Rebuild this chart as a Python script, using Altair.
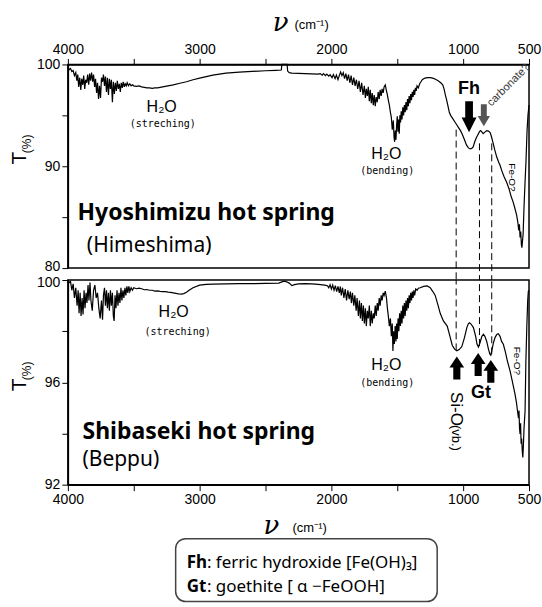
import altair as alt
import pandas as pd

# ---------------- spectra: (wavenumber cm-1, transmittance %) ----------------
top_stretching = [
    (4000, 99.7), (3990, 99.5), (3980, 99.6), (3970, 99.3), (3960, 99.4), (3950, 98.9),
    (3940, 99.2), (3932, 98.4), (3925, 99.0), (3918, 97.8), (3910, 98.7), (3902, 97.5),
    (3895, 98.6), (3887, 98.0), (3880, 98.9), (3872, 97.6), (3865, 98.5), (3857, 98.2),
    (3850, 99.0), (3842, 98.0), (3835, 99.1), (3828, 98.4), (3820, 99.2), (3812, 98.3),
    (3805, 99.0), (3797, 97.8), (3790, 98.6), (3782, 97.2), (3775, 98.2), (3767, 96.6),
    (3760, 97.9), (3752, 96.7), (3745, 98.7), (3737, 98.3), (3730, 99.0), (3722, 97.9),
    (3715, 98.8), (3707, 97.3), (3700, 98.7), (3692, 97.0), (3685, 98.6), (3677, 97.6),
    (3670, 98.5), (3662, 96.3), (3655, 98.3), (3647, 97.1), (3640, 98.2), (3632, 97.4),
    (3625, 98.4), (3617, 97.6), (3610, 98.1), (3602, 97.3), (3595, 98.2), (3587, 97.7),
    (3580, 98.3), (3572, 97.8), (3565, 98.1), (3557, 97.9), (3550, 98.2), (3540, 97.9),
    (3530, 98.1), (3520, 97.9), (3510, 98.0), (3500, 97.9), (3480, 97.85), (3460, 97.9),
    (3440, 97.8), (3420, 97.75), (3400, 97.7), (3380, 97.7), (3360, 97.65), (3340, 97.7),
    (3320, 97.7), (3300, 97.75), (3280, 97.8), (3260, 97.85), (3240, 97.9), (3220, 97.95),
]
top_plateau = [
    (3200, 98.0), (3150, 98.15), (3100, 98.3), (3050, 98.5), (3000, 98.65), (2950, 98.8),
    (2900, 98.95), (2850, 99.05), (2800, 99.15), (2700, 99.25), (2600, 99.32), (2500, 99.38),
    (2420, 99.42), (2380, 99.45), (2376, 100.0), (2336, 100.0), (2332, 99.35), (2320, 99.2),
    (2300, 99.15), (2250, 99.12), (2200, 99.1), (2150, 99.08), (2100, 99.05),
]
top_bending = [
    (2085, 99.1), (2070, 98.95), (2060, 99.1), (2045, 98.9), (2035, 99.05), (2020, 98.85),
    (2010, 99.0), (1995, 98.7), (1985, 99.0), (1972, 98.6), (1962, 98.95), (1950, 98.5),
    (1940, 98.9), (1930, 99.25), (1920, 98.9), (1910, 99.2), (1900, 98.6), (1890, 99.1),
    (1880, 98.4), (1870, 99.0), (1860, 98.2), (1850, 98.9), (1840, 98.0), (1830, 98.7),
    (1820, 97.9), (1810, 98.5), (1800, 97.6), (1790, 98.4), (1780, 97.3), (1770, 98.2),
    (1760, 97.0), (1750, 97.9), (1742, 96.7), (1735, 97.6), (1727, 96.9), (1720, 97.8),
    (1712, 96.4), (1705, 97.5), (1697, 96.2), (1690, 97.2), (1682, 96.0), (1675, 97.0),
    (1667, 95.9), (1660, 96.8), (1652, 96.3), (1645, 97.3), (1637, 96.6), (1630, 97.5),
    (1622, 96.9), (1615, 97.6), (1607, 97.2), (1600, 97.8), (1591, 98.0), (1582, 97.4),
    (1575, 97.0), (1568, 96.5), (1560, 96.0), (1552, 95.3), (1545, 94.8), (1538, 93.6),
    (1530, 94.5), (1524, 92.8), (1520, 92.4), (1515, 93.5), (1510, 92.6), (1505, 94.0),
    (1500, 94.9), (1495, 93.4), (1490, 94.6), (1485, 93.2), (1480, 95.0), (1475, 94.3),
    (1470, 95.4), (1464, 94.6), (1458, 95.8), (1452, 95.0), (1446, 96.0), (1440, 95.3),
    (1434, 96.3), (1428, 95.5), (1422, 96.6), (1416, 95.9), (1410, 96.9), (1404, 96.2),
    (1398, 97.1), (1392, 96.5), (1386, 97.3), (1380, 96.8), (1374, 97.5), (1368, 97.0),
    (1362, 97.7), (1356, 97.4), (1350, 97.9), (1340, 97.7), (1330, 98.1), (1320, 98.3),
    (1310, 98.5), (1300, 98.6),
]
top_fingerprint = [
    (1290, 98.65), (1270, 98.7), (1250, 98.7), (1230, 98.65), (1210, 98.55), (1190, 98.4),
    (1170, 98.2), (1155, 98.0), (1145, 97.6), (1135, 97.0), (1125, 96.5), (1115, 95.9),
    (1105, 95.3), (1095, 95.0), (1080, 94.7), (1065, 94.4), (1050, 94.1), (1035, 93.8),
    (1020, 93.5), (1005, 93.1), (990, 92.6), (975, 92.1), (960, 91.8), (947, 91.7),
    (935, 91.75), (924, 91.9), (912, 92.4), (900, 92.8), (888, 93.1), (876, 93.4),
    (867, 93.5), (857, 93.35), (848, 93.2), (835, 93.35), (821, 93.5), (808, 93.45),
    (795, 93.3), (785, 92.9), (773, 92.3), (760, 91.6), (745, 90.9), (730, 90.4),
    (720, 90.1), (705, 89.5), (690, 89.0), (669, 88.4), (650, 87.7), (635, 87.0),
    (621, 86.5), (608, 85.9), (594, 85.2), (585, 84.5), (578, 83.7), (573, 84.3),
    (568, 83.0), (563, 83.6), (558, 82.3), (554, 82.0), (550, 82.6), (545, 83.3),
    (538, 86.0), (530, 88.5), (523, 90.5), (515, 93.5), (508, 95.0), (500, 96.0),
]

bot_stretching = [
    (4000, 100.0), (3990, 99.9), (3980, 99.95), (3970, 99.6), (3960, 99.85), (3950, 99.3),
    (3940, 99.7), (3930, 99.0), (3922, 99.6), (3915, 98.7), (3907, 99.5), (3900, 98.6),
    (3892, 99.3), (3885, 98.65), (3877, 99.6), (3870, 98.9), (3862, 99.5), (3855, 99.1),
    (3847, 99.8), (3840, 99.2), (3832, 99.9), (3825, 99.2), (3815, 98.8), (3805, 99.6),
    (3795, 99.8), (3785, 99.3), (3775, 99.5), (3765, 98.9), (3755, 98.5), (3745, 99.2),
    (3737, 98.45), (3730, 99.4), (3722, 99.7), (3715, 99.0), (3707, 99.6), (3700, 98.9),
    (3692, 99.5), (3685, 98.8), (3677, 99.6), (3670, 99.0), (3662, 99.5), (3655, 98.6),
    (3649, 98.4), (3642, 99.4), (3635, 98.9), (3627, 99.6), (3620, 99.0), (3612, 99.5),
    (3605, 99.1), (3597, 99.7), (3590, 99.2), (3582, 99.6), (3575, 99.3), (3567, 99.7),
    (3560, 99.4), (3552, 99.75), (3545, 99.5), (3537, 99.75), (3530, 99.55), (3520, 99.7),
    (3510, 99.6), (3500, 99.7), (3480, 99.66), (3460, 99.68), (3440, 99.66), (3420, 99.62),
    (3400, 99.63), (3380, 99.6), (3360, 99.6), (3340, 99.57), (3320, 99.58), (3300, 99.56),
    (3280, 99.55), (3260, 99.55), (3240, 99.53), (3220, 99.52), (3200, 99.5),
]
bot_plateau = [
    (3180, 99.48), (3160, 99.46), (3140, 99.45), (3120, 99.47), (3100, 99.52), (3080, 99.6),
    (3050, 99.7), (3000, 99.8), (2950, 99.83), (2900, 99.84), (2800, 99.85), (2700, 99.86),
    (2600, 99.86), (2500, 99.87), (2400, 99.88), (2380, 99.92), (2360, 99.96), (2340, 99.93),
    (2320, 99.88), (2300, 99.78), (2280, 99.82), (2250, 99.85), (2200, 99.86), (2150, 99.85),
    (2100, 99.83), (2050, 99.8), (2030, 99.78),
]
bot_bending = [
    (2020, 99.7), (2010, 99.82), (2000, 99.65), (1990, 99.8), (1980, 99.6), (1970, 99.78),
    (1960, 99.55), (1950, 99.75), (1940, 99.5), (1932, 99.75), (1925, 99.4), (1915, 99.7),
    (1905, 99.3), (1895, 99.65), (1885, 99.2), (1875, 99.6), (1865, 99.25), (1856, 99.55),
    (1848, 99.1), (1840, 99.5), (1830, 99.0), (1822, 99.4), (1812, 98.8), (1805, 99.3),
    (1795, 98.6), (1787, 99.2), (1780, 98.5), (1772, 99.1), (1765, 98.4), (1757, 99.0),
    (1750, 98.3), (1742, 98.9), (1735, 98.2), (1727, 98.8), (1720, 98.5), (1712, 99.0),
    (1705, 98.2), (1697, 98.8), (1690, 98.3), (1682, 98.7), (1675, 98.5), (1667, 99.0),
    (1660, 98.6), (1652, 99.1), (1645, 98.8), (1637, 99.3), (1630, 99.0), (1622, 99.4),
    (1615, 99.2), (1607, 99.5), (1600, 99.4), (1591, 99.57), (1582, 99.3), (1575, 98.9),
    (1568, 98.6), (1560, 98.2), (1552, 98.5), (1545, 97.8), (1538, 98.3), (1533, 97.23),
    (1528, 98.0), (1522, 97.5), (1516, 98.2), (1510, 97.6), (1505, 98.3), (1500, 97.7),
    (1494, 98.5), (1488, 98.0), (1482, 98.7), (1476, 98.2), (1470, 98.8), (1464, 98.3),
    (1458, 99.0), (1452, 98.5), (1446, 99.1), (1440, 98.6), (1434, 99.2), (1428, 98.8),
    (1422, 99.3), (1416, 98.9), (1410, 99.4), (1404, 99.1), (1398, 99.5), (1392, 99.2),
    (1386, 99.55), (1380, 99.3), (1374, 99.6), (1368, 99.4), (1360, 99.65), (1350, 99.6),
    (1340, 99.68), (1326, 99.7), (1300, 99.75),
]
bot_fingerprint = [
    (1273, 99.77), (1250, 99.7), (1230, 99.55), (1212, 99.4), (1190, 99.0), (1174, 98.7),
    (1150, 98.4), (1121, 98.2), (1100, 97.8), (1083, 97.45), (1065, 97.3), (1048, 97.23),
    (1030, 97.28), (1010, 97.4), (990, 97.75), (972, 98.14), (960, 98.3), (952, 98.33),
    (940, 98.28), (922, 98.14), (905, 97.8), (895, 97.5), (884, 97.38), (872, 97.55),
    (858, 97.8), (846, 97.88), (835, 97.8), (821, 97.6), (808, 97.3), (797, 97.1),
    (790, 97.06), (780, 97.3), (770, 97.55), (758, 97.75), (745, 97.87), (733, 97.9),
    (720, 97.8), (708, 97.6), (695, 97.49), (680, 97.2), (665, 96.85), (644, 96.45),
    (625, 96.0), (606, 95.53), (595, 95.2), (588, 94.9), (580, 94.6), (576, 94.9),
    (572, 94.2), (568, 93.98), (564, 94.4), (560, 93.6), (556, 93.8), (551, 93.3),
    (547, 93.06), (543, 93.5), (538, 94.2), (530, 94.88), (524, 96.8), (517, 98.14),
    (510, 99.2), (505, 99.57), (500, 99.6),
]

x_ticks = [4000, 3500, 3000, 2500, 2000, 1500, 1000, 500]
top_y_ticks = [80, 85, 90, 95, 100]
bot_y_ticks = [92, 94, 96, 98, 100]

# dashed guide lines (wavenumber, start T in upper panel, end T in lower panel)
guide_nu = [1053, 876, 783]
guide_top_T = [93.6, 92.25, 92.25]
guide_bot_T = [97.25, 97.42, 97.1]

# arrows (wavenumber, T)
fh_arrow = [(955, 94.87)]
carbonate_arrow = [(843, 95.0)]
up_arrows = [(1048, 96.56), (886, 96.70), (790, 96.43)]

# annotations (text, wavenumber, T)
top_name = [("Hyoshimizu hot spring", 3927, 85.36)]
top_place = [("(Himeshima)", 3856, 82.13)]
top_h2o = [("H\u2082O", 3288, 95.85), ("H\u2082O", 1583, 91.25)]
top_modes = [("(streching)", 3280, 94.19), ("(bending)", 1576, 89.58)]
top_fh = [("Fh", 955, 97.57)]
top_carb = [("carbonate?", 655, 97.95)]
top_feo = [("Fe-O?", 629, 88.9)]
top_nu_sym = [("\u03bd", 2386, 104.1)]
top_nu_unit = [("(cm\u207b\u00b9)", 2280, 103.9)]
top_T_sym = [("T", 4364, 90.8)]
top_T_unit = [("(%)", 4311, 92.2)]

bot_name = [("Shibaseki hot spring", 3889, 94.04)]
bot_place = [("(Beppu)", 3889, 92.97)]
bot_h2o = [("H\u2082O", 3197, 98.75), ("H\u2082O", 1583, 96.66)]
bot_modes = [("(streching)", 3167, 97.97), ("(bending)", 1576, 95.98)]
bot_gt = [("Gt", 864, 95.59)]
bot_sio = [("Si-O", 1053, 94.96)]
bot_vb = [("(vb.)", 1053, 93.83)]
bot_feo = [("Fe-O?", 591, 96.84)]
bot_nu_sym = [("\u03bd", 2455, 90.4)]
bot_nu_unit = [("(cm\u207b\u00b9)", 2295, 90.32)]
bot_T_sym = [("T", 4364, 95.9)]
bot_T_unit = [("(%)", 4311, 96.45)]

legend_box = [(3182, 1197, 89.89, 87.43)]
legend_keys = [("Fh", 3098, 88.95), ("Gt", 3098, 87.98)]
legend_desc = [(": ferric hydroxide [Fe(OH)\u2083]", 2945, 88.95),
               (": goethite [ \u03b1 \u2212FeOOH]", 2945, 87.98)]

# ---------------- layout ----------------
W = 462
H_TOP = 204
H_BOT = 205
GAP = 12

DOWN_FH = "M-0.25,-1L0.25,-1L0.25,0.05L0.48,0.05L0,1L-0.48,0.05L-0.25,0.05Z"
DOWN_CARB = "M-0.27,-1L0.27,-1L0.27,0.05L0.56,0.05L0,1L-0.56,0.05L-0.27,0.05Z"
UP = "M-0.31,1L0.31,1L0.31,-0.05L0.64,-0.05L0,-1L-0.64,-0.05L-0.31,-0.05Z"


def xenc(orient):
    return alt.X(
        "nu:Q",
        scale=alt.Scale(domain=[500, 4000], reverse=True, nice=False, zero=False),
        axis=alt.Axis(orient=orient, values=x_ticks, format="d", title=None,
                      labelFlush=False, labelOverlap=False,
                      labelExpr="(datum.value % 1000 == 0 || datum.value == 500) ? datum.label : ''"),
    )


def yenc(domain, ticks, mod, edge_value, edge_offset):
    return alt.Y(
        "T:Q",
        scale=alt.Scale(domain=domain, nice=False, zero=False),
        axis=alt.Axis(values=ticks, title=None, labelOverlap=False,
                      labelOffset={"condition": {"test": f"datum.value == {edge_value}",
                                                 "value": edge_offset}, "value": 0},
                      labelExpr=f"datum.value % {mod} == 0 ? datum.label : ''"),
    )


def spectrum(parts):
    rows = [p for part in parts for p in part]
    return pd.DataFrame(rows, columns=["nu", "T"])


def texts(rows, xe, ye, **style):
    df = pd.DataFrame(rows, columns=["label", "nu", "T"])
    base = dict(color="black", baseline="middle", align="center", font="Liberation Sans")
    base.update(style)
    return alt.Chart(df).mark_text(**base).encode(x=xe, y=ye, text="label:N")


def arrows(rows, xe, ye, shape, size, color):
    df = pd.DataFrame(rows, columns=["nu", "T"])
    return alt.Chart(df).mark_point(shape=shape, size=size, filled=True, color=color,
                                     opacity=1, strokeWidth=0).encode(x=xe, y=ye)


# ---------------- upper panel ----------------
xt = xenc("top")
yt = yenc([80, 100], top_y_ticks, 10, 80, -2)

top_line = alt.Chart(spectrum([top_stretching, top_plateau, top_bending, top_fingerprint])).mark_line(
    color="black", strokeWidth=1.2).encode(x=xt, y=yt)
top_guides = alt.Chart(pd.DataFrame({"nu": guide_nu, "T": guide_top_T})).mark_rule(
    color="black", strokeWidth=1, strokeDash=[7, 4]).encode(x=xt, y=yt, y2=alt.value(H_TOP + GAP))

top = alt.layer(
    top_guides,
    top_line,
    arrows(fh_arrow, xt, yt, DOWN_FH, 31 * 31, "black"),
    arrows(carbonate_arrow, xt, yt, DOWN_CARB, 22 * 22, "#555555"),
    texts(top_name, xt, yt, align="left", font="Noto Sans", fontWeight="bold", fontSize=23),
    texts(top_place, xt, yt, align="left", font="Noto Sans", fontSize=21),
    texts(top_h2o, xt, yt, fontSize=16),
    texts(top_modes, xt, yt, font="DejaVu Sans Mono", fontSize=10),
    texts(top_fh, xt, yt, fontWeight="bold", fontSize=18),
    texts(top_carb, xt, yt, fontSize=11, angle=315, color="#333333"),
    texts(top_feo, xt, yt, fontSize=10, angle=90),
    texts(top_nu_sym, xt, yt, font="DejaVu Serif", fontStyle="italic", fontSize=26),
    texts(top_nu_unit, xt, yt, align="left", fontSize=13),
    texts(top_T_sym, xt, yt, fontSize=21, angle=270),
    texts(top_T_unit, xt, yt, fontSize=12, angle=270),
).properties(width=W, height=H_TOP)

# ---------------- lower panel ----------------
xb = xenc("bottom")
yb = yenc([92, 100], bot_y_ticks, 4, 100, 2)

bot_line = alt.Chart(spectrum([bot_stretching, bot_plateau, bot_bending, bot_fingerprint])).mark_line(
    color="black", strokeWidth=1.2).encode(x=xb, y=yb)
bot_guides = alt.Chart(pd.DataFrame({"nu": guide_nu, "T": guide_bot_T})).mark_rule(
    color="black", strokeWidth=1, strokeDash=[7, 4]).encode(x=xb, y=yb, y2=alt.value(0))

box_df = pd.DataFrame(legend_box, columns=["nu", "nu2", "T", "T2"])
legend_rect = alt.Chart(box_df).mark_rect(
    cornerRadius=10, fill="white", stroke="#444444", strokeWidth=1.5).encode(
    x=xb, x2=alt.X2("nu2:Q"), y=yb, y2=alt.Y2("T2:Q"))

bottom = alt.layer(
    bot_guides,
    bot_line,
    arrows(up_arrows, xb, yb, UP, 23 * 23, "black"),
    texts(bot_name, xb, yb, align="left", font="Noto Sans", fontWeight="bold", fontSize=23),
    texts(bot_place, xb, yb, align="left", font="Noto Sans", fontSize=21),
    texts(bot_h2o, xb, yb, fontSize=16),
    texts(bot_modes, xb, yb, font="DejaVu Sans Mono", fontSize=10),
    texts(bot_gt, xb, yb, fontWeight="bold", fontSize=18),
    texts(bot_sio, xb, yb, fontSize=17, angle=90),
    texts(bot_vb, xb, yb, fontSize=13, angle=90),
    texts(bot_feo, xb, yb, fontSize=10, angle=90),
    texts(bot_nu_sym, xb, yb, font="DejaVu Serif", fontStyle="italic", fontSize=26),
    texts(bot_nu_unit, xb, yb, align="left", fontSize=13),
    texts(bot_T_sym, xb, yb, fontSize=21, angle=270),
    texts(bot_T_unit, xb, yb, fontSize=12, angle=270),
    legend_rect,
    texts(legend_keys, xb, yb, align="left", font="Noto Sans", fontWeight="bold", fontSize=17),
    texts(legend_desc, xb, yb, align="left", font="Noto Sans", fontSize=17),
).properties(width=W, height=H_BOT)

chart = alt.vconcat(top, bottom, spacing=GAP, bounds="flush").properties(
    padding={"left": 8, "top": 8, "right": 0, "bottom": 4}
).configure_view(
    stroke="black", strokeWidth=1.5
).configure_axis(
    grid=False, domainColor="black", domainWidth=1.5, tickColor="black", tickWidth=1,
    tickSize=6, labelColor="black", labelFont="Liberation Sans", labelFontSize=14, labelPadding=2,
)

chart.save("out.html", embed_options={"renderer": "svg", "actions": False})
